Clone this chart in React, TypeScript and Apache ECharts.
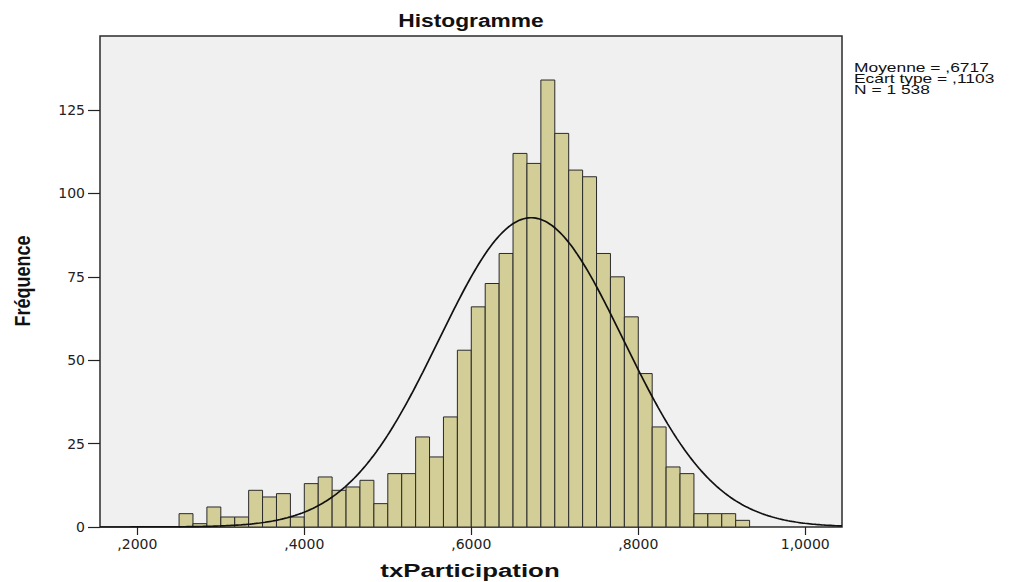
import React, { useEffect, useRef } from 'react';
import * as echarts from 'echarts';

// Histogram bins (txParticipation), bin width = 1/60, first bin starts at 0.25
const BIN_START = 0.25;
const BIN_WIDTH = 1 / 60;
const COUNTS = [
  4, 1, 6, 3, 3, 11, 9, 10, 3, 13,
  15, 11, 12, 14, 7, 16, 16, 27, 21, 33,
  53, 66, 73, 82, 112, 109, 134, 118, 107, 105,
  82, 75, 63, 46, 30, 18, 16, 4, 4, 4,
  2,
];
const X_TICKS = [0.2, 0.4, 0.6, 0.8, 1.0];
const Y_TICKS = [0, 25, 50, 75, 100, 125];
const X_MIN = 0.1553;
const X_MAX = 1.044;
const Y_MAX = 147.2;
// Fitted normal curve parameters (as printed on the chart)
const MEAN = 0.6717;
const SD = 0.1103;
const N = 1538;
const STATS = ['Moyenne = ,6717', 'Ecart type = ,1103', 'N = 1 538'];
const TITLE = 'Histogramme';
const X_NAME = 'txParticipation';
const Y_NAME = 'Fréquence';

const fmtX = (v: number) => v.toFixed(4).replace('.', ',').replace(/^0/, '');

export default function App() {
  const ref = useRef<HTMLDivElement>(null);
  useEffect(() => {
    document.body.style.margin = '0';
    if (!ref.current) return;
    const chart = echarts.init(ref.current, undefined, { renderer: 'svg' });

    const bars = COUNTS.map((c, i) => [BIN_START + i * BIN_WIDTH, BIN_START + (i + 1) * BIN_WIDTH, c]);
    const scale = (N * BIN_WIDTH) / (SD * Math.sqrt(2 * Math.PI));
    const curve: number[][] = [];
    const steps = 400;
    for (let i = 0; i <= steps; i++) {
      const x = X_MIN + ((X_MAX - X_MIN) * i) / steps;
      curve.push([x, scale * Math.exp(-0.5 * Math.pow((x - MEAN) / SD, 2))]);
    }

    const labelFont = { fontFamily: 'DejaVu Sans', fontSize: 14, color: '#222' };

    chart.setOption({
      animation: false,
      backgroundColor: '#ffffff',
      grid: {
        left: 100,
        top: 36,
        right: 176,
        bottom: 55,
        show: true,
        backgroundColor: '#F0F0F0',
        borderColor: '#2b2b2b',
        borderWidth: 1.5,
      },
      xAxis: {
        type: 'value',
        min: X_MIN,
        max: X_MAX,
        splitLine: { show: false },
        axisLine: { show: false },
        axisTick: { show: true, length: 8, customValues: X_TICKS, lineStyle: { color: '#222', width: 1.2 } },
        axisLabel: { ...labelFont, margin: 10, customValues: X_TICKS, formatter: (v: number) => fmtX(v) },
      },
      yAxis: {
        type: 'value',
        min: 0,
        max: Y_MAX,
        splitLine: { show: false },
        axisLine: { show: false },
        axisTick: { show: true, length: 12, customValues: Y_TICKS, lineStyle: { color: '#222', width: 1.2 } },
        axisLabel: { ...labelFont, margin: 15, customValues: Y_TICKS },
      },
      graphic: [
        {
          type: 'text',
          x: 471,
          y: 20,
          scaleX: 1.2,
          style: {
            text: TITLE,
            fontFamily: 'Liberation Sans',
            fontWeight: 'bold',
            fontSize: 19,
            fill: '#111',
            align: 'center',
            verticalAlign: 'middle',
          },
        },
        {
          type: 'text',
          x: 470,
          y: 570,
          scaleX: 1.36,
          style: {
            text: X_NAME,
            fontFamily: 'Liberation Sans',
            fontWeight: 'bold',
            fontSize: 19,
            fill: '#111',
            align: 'center',
            verticalAlign: 'middle',
          },
        },
        {
          type: 'text',
          x: 22,
          y: 281,
          rotation: Math.PI / 2,
          scaleY: 1.2,
          style: {
            text: Y_NAME,
            fontFamily: 'Liberation Sans',
            fontWeight: 'bold',
            fontSize: 18,
            fill: '#111',
            align: 'center',
            verticalAlign: 'middle',
          },
        },
        {
          type: 'text',
          x: 854,
          y: 62,
          scaleX: 1.45,
          style: {
            text: STATS.join('\n'),
            fontFamily: 'Liberation Sans',
            fontSize: 12,
            lineHeight: 11,
            fill: '#111',
            align: 'left',
            verticalAlign: 'top',
          },
        },
      ],
      series: [
        {
          type: 'custom',
          data: bars,
          encode: { x: [0, 1], y: 2 },
          renderItem: (params: any, api: any) => {
            const p0 = api.coord([api.value(0), api.value(2)]);
            const p1 = api.coord([api.value(1), 0]);
            return {
              type: 'rect',
              shape: { x: p0[0], y: p0[1], width: p1[0] - p0[0], height: p1[1] - p0[1] },
              style: { fill: '#D3CE98', stroke: '#2a2a2a', lineWidth: 1 },
            };
          },
        },
        {
          type: 'line',
          data: curve,
          showSymbol: false,
          symbol: 'none',
          smooth: false,
          lineStyle: { color: '#111', width: 1.7 },
          z: 5,
        },
      ],
    });
    return () => chart.dispose();
  }, []);
  return <div ref={ref} style={{ width: 1018, height: 582 }} />;
}
